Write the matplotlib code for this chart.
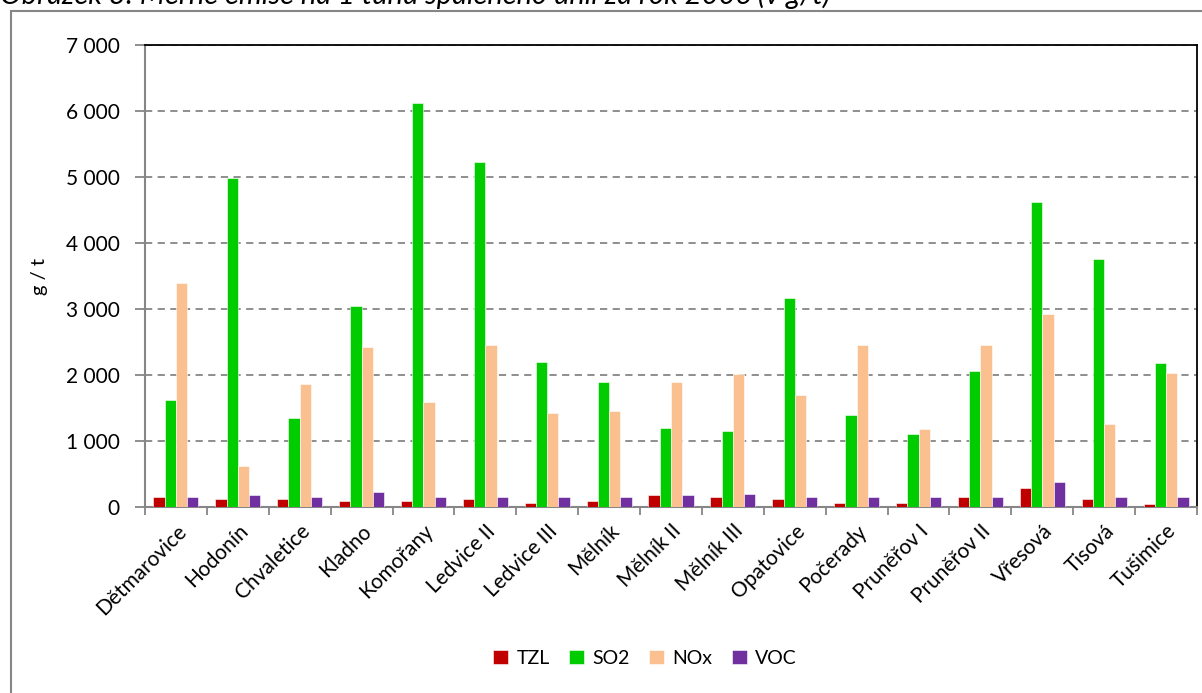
import numpy as np
import matplotlib.pyplot as plt
from matplotlib.patches import Rectangle
from matplotlib.ticker import FuncFormatter, FixedLocator

plants = ["Dětmarovice", "Hodonín", "Chvaletice", "Kladno", "Komořany",
          "Ledvice II", "Ledvice III", "Mělník", "Mělník II", "Mělník III",
          "Opatovice", "Počerady", "Pruněřov I", "Pruněřov II", "Vřesová",
          "Tisová", "Tušimice"]
tzl = [150, 120, 120, 90, 90, 120, 60, 90, 180, 150, 120, 60, 60, 150, 290, 120, 40]
so2 = [1620, 4980, 1350, 3040, 6120, 5230, 2200, 1900, 1200, 1150, 3170, 1390, 1100, 2060, 4620, 3760, 2180]
nox = [3400, 620, 1870, 2430, 1590, 2450, 1430, 1450, 1900, 2010, 1700, 2450, 1180, 2450, 2920, 1260, 2035]
voc = [150, 180, 150, 230, 150, 150, 150, 150, 180, 200, 150, 150, 150, 150, 380, 150, 150]

series = [("TZL", tzl, "#C00000"), ("SO2", so2, "#00CC00"),
          ("NOx", nox, "#FAC090"), ("VOC", voc, "#7030A0")]

plt.rcParams["font.family"] = ["Lato", "DejaVu Sans"]

fig = plt.figure(figsize=(12.02, 6.93), dpi=100)
ax = fig.add_axes([145 / 1202, 1 - 507 / 693, 1052 / 1202, 462 / 693])

x = np.arange(len(plants))
w = 1 / 5.5
for i, (name, vals, col) in enumerate(series):
    ax.bar(x + (i - 1.5) * w, vals, w, color=col, label=name,
           edgecolor="white", linewidth=0.4, zorder=3)

ax.set_xlim(-0.5, len(plants) - 0.5)
ax.set_ylim(0, 7000)
ax.set_yticks(range(0, 7001, 1000))
ax.yaxis.set_major_formatter(FuncFormatter(lambda v, p: f"{int(v):,}".replace(",", " ")))
ax.grid(axis="y", color="#868686", linestyle=(0, (4, 3)), linewidth=1.3, zorder=0)

ax.set_xticks(x)
ax.set_xticklabels(plants, rotation=45, ha="right", rotation_mode="anchor", fontsize=15)
ax.xaxis.set_minor_locator(FixedLocator(np.arange(-0.5, len(plants), 1)))
ax.tick_params(axis="x", which="major", length=0, pad=10)
ax.tick_params(axis="x", which="minor", length=6, color="#868686", width=1.3)
ax.tick_params(axis="y", length=7, color="#868686", width=1.3, labelsize=15, pad=11)

for s in ["left", "bottom"]:
    ax.spines[s].set_color("#868686")
    ax.spines[s].set_linewidth(1.5)
for s in ["top", "right"]:
    ax.spines[s].set_color("black")
    ax.spines[s].set_linewidth(1.3)

fig.text(40 / 1202, 1 - 276 / 693, "g / t", rotation=90, fontsize=14.5,
         ha="center", va="center")

ax.legend(loc="center", bbox_to_anchor=(645 / 1202, 1 - 658 / 693),
          bbox_transform=fig.transFigure, ncol=4, frameon=False,
          handlelength=0.75, handleheight=0.75, handletextpad=0.45,
          columnspacing=1.0, fontsize=14)

# outer chart frame (partly off the page)
fig.patches.append(Rectangle((11 / 1202, -0.1), 1.2, 1 - 11 / 693 + 0.1,
                             transform=fig.transFigure, fill=False,
                             edgecolor="#868686", linewidth=1.5))

fig.text(0.0, 1 - 4 / 693, "Obrázek 3: Měrné emise na 1 tunu spáleného uhlí za rok 2006 (v g/t)",
         fontsize=21, style="italic", va="baseline", ha="left")

fig.savefig("out.png", dpi=100)
